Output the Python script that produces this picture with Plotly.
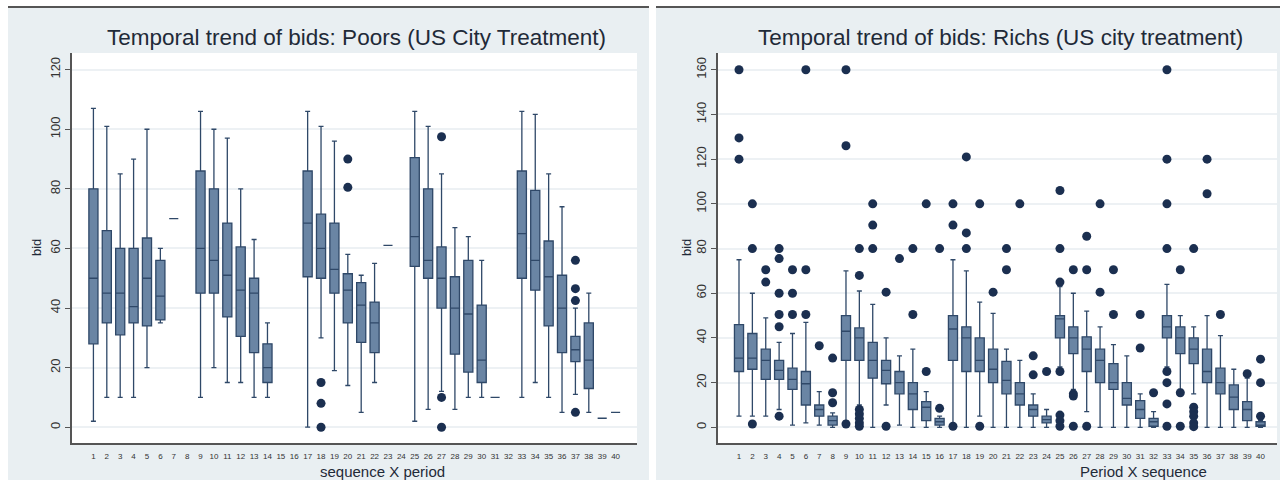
import plotly.graph_objects as go

# ---------------- Data: Poors (left panel) ----------------
poor_cat = [1, 2, 3, 4, 5, 6, 7, 9, 10, 11, 12, 13, 14, 17, 18, 19, 20, 21, 22, 23,
            25, 26, 27, 28, 29, 30, 31, 33, 34, 35, 36, 37, 38, 39, 40]
poor_lo  = [2, 10, 10, 10, 20, 35, 70, 10, 20, 15, 15, 10, 10, 0, 30, 19, 14, 5, 15, 61,
            2, 6, 12, 6, 10, 10, 10, 10, 15, 10, 5, 11, 5, 3, 5]
poor_q1  = [28, 35, 31, 35, 34, 36, 70, 45, 45, 37, 30.5, 25, 15, 50.5, 50, 45, 35, 28.5, 25, 61,
            54, 50, 40, 24.5, 18.5, 15, 10, 50, 46, 34, 25, 22, 13, 3, 5]
poor_med = [50, 45, 45, 40.5, 50, 44, 70, 60, 56, 51, 46, 45, 20, 68.5, 60, 53, 46, 41, 35, 61,
            64, 56, 50, 40, 38, 22.5, 10, 65, 56, 50.5, 40, 26, 22.5, 3, 5]
poor_q3  = [80, 66, 60, 60, 63.5, 56, 70, 86, 80, 68.5, 60.5, 50, 28, 86, 71.5, 68.5, 51.5, 48.5, 42, 61,
            90.5, 80, 60.5, 50.5, 56, 41, 10, 86, 79.5, 62.5, 51, 30.5, 35, 3, 5]
poor_hi  = [107, 101, 85, 90, 100, 60, 70, 106, 100, 97, 80, 63, 35, 106, 101, 96, 58, 51, 55, 61,
            106, 101, 85, 67, 64, 56, 10, 106, 105, 85, 74, 40, 45, 3, 5]
poor_out_x = [18, 18, 18, 20, 20, 27, 27, 27, 37, 37, 37, 37]
poor_out_y = [15, 8, 0, 90, 80.5, 97.5, 10, 0, 56, 46.5, 42.5, 5]

# ---------------- Data: Richs (right panel) ----------------
rich_cat = list(range(1, 41))
rich_lo  = [5, 5, 5, 8, 1, 2, 1, 0, 3, 10, 0, 10, 1, 0, 0, 0, 1, 0, 5, 0,
            0, 0, 0, 0, 27, 17, 7, 0, 0, 0, 0, 0, 27, 17, 15, 0, 0, 0, 0, 0]
rich_q1  = [25, 26, 21.5, 21.5, 17, 10, 5, 1, 30, 30, 22, 19.5, 15, 8, 3, 1, 30, 25, 25, 20,
            15, 10, 5, 2, 40, 33, 25, 20, 17, 10, 4, 0.5, 40, 33, 28.5, 20, 15, 8, 3, 0.5]
rich_med = [31, 31, 30, 25.5, 21.5, 19.5, 8, 3, 43, 40, 30, 25.5, 20, 15, 9, 2.5, 44, 40, 30, 26,
            21, 15, 8, 3.5, 48.5, 40, 35, 30, 20, 13, 8, 2.5, 45, 40, 35, 25, 20, 13.5, 8, 1]
rich_q3  = [46, 42, 35, 30, 26.5, 25, 10, 5, 50, 44.5, 38, 30, 25, 20, 11.5, 4, 50, 45, 40, 35,
            29.5, 20, 10, 5, 50, 45, 40.5, 35, 28.5, 20, 12, 4, 50, 45, 40, 35, 26.5, 19, 11.5, 2.5]
rich_hi  = [75, 60, 49, 38, 42, 47, 16, 6.5, 70, 61, 55, 40, 32, 35, 16, 5, 75, 70, 56, 51,
            35, 30, 15, 8, 63, 60, 52, 45, 37, 32, 15, 7, 64, 50, 45, 50, 41, 26, 22, 3]
rich_out_x = [1, 1, 1, 2, 2, 2, 3, 3, 4, 4, 4, 4, 4, 4, 5, 5, 5, 6, 6, 6, 7, 8, 8, 8,
              9, 9, 9, 10, 10, 10, 10, 10, 10, 10, 11, 11, 11, 12, 12, 13, 14, 14, 15, 15, 16, 16,
              17, 17, 17, 18, 18, 18, 19, 19, 20, 21, 21, 22, 23, 23, 24,
              25, 25, 25, 25, 25, 25, 25, 26, 26, 26, 26, 27, 27, 27, 28, 28, 29, 29, 31, 31, 32,
              33, 33, 33, 33, 33, 33, 33, 33, 34, 34, 34, 35, 35, 35, 35, 35, 35, 36, 36, 37,
              39, 40, 40, 40]
rich_out_y = [160, 129.5, 120, 100, 80, 1.5, 70.5, 65, 80, 75.5, 60, 50.5, 45, 5, 70.5, 60, 50.5,
              160, 70.5, 50.5, 36.5, 31, 15.5, 11,
              160, 126, 1.5, 80, 68, 8, 6, 4, 2, 0.5, 100, 90.5, 80, 60.5, 0.5, 75.5, 80, 50.5,
              100, 25, 80, 8.5,
              100, 90.5, 0.5, 121, 87, 80, 100, 0.5, 60.5, 80, 70.5, 100, 32, 23.5, 25,
              106, 80, 65, 25, 5.5, 3, 0.5, 70.5, 15, 14, 0.5, 85.5, 70.5, 0.5, 100, 60.5, 70.5, 50.5,
              50.5, 35.5, 15.5,
              160, 120, 100, 80, 25, 20, 10.5, 0.5, 70.5, 15.5, 0.5, 80, 9, 7, 5, 2, 0.3,
              120, 104.5, 50.5, 24, 30.5, 20, 5]

# ---------------- Styling ----------------
W, H = 1280, 480
BG_OUT = "#e9eff2"
BOX_FILL = "#6a85a4"
BOX_LINE = "#2f4868"
DOT = "#1b2f50"
TXT = "#1f2a38"
FONT = "Liberation Sans, Arial, sans-serif"


def px(x):
    return x / W


def py(y):
    return 1 - y / H


fig = go.Figure()


def add_panel(cat, lo, q1, med, q3, hi, ox, oy, xa, ya):
    fig.add_trace(go.Box(
        x=cat, q1=q1, median=med, q3=q3, lowerfence=lo, upperfence=hi,
        boxpoints=False, width=0.68, whiskerwidth=0.55,
        fillcolor=BOX_FILL, line=dict(color=BOX_LINE, width=1.3),
        xaxis=xa, yaxis=ya, showlegend=False, hoverinfo="skip"))
    fig.add_trace(go.Scatter(
        x=ox, y=oy, mode="markers",
        marker=dict(color=DOT, size=9, line=dict(width=0)),
        xaxis=xa, yaxis=ya, showlegend=False, hoverinfo="skip"))


add_panel(poor_cat, poor_lo, poor_q1, poor_med, poor_q3, poor_hi, poor_out_x, poor_out_y, "x", "y")
add_panel(rich_cat, rich_lo, rich_q1, rich_med, rich_q3, rich_hi, rich_out_x, rich_out_y, "x2", "y2")

ydom = [py(443), py(53)]
xcommon = dict(
    tickmode="array", tickvals=list(range(1, 41)), ticktext=[str(i) for i in range(1, 41)],
    tickfont=dict(size=8, color="#333", family=FONT), ticks="", showgrid=False, zeroline=False,
    showline=True, linecolor="#555", linewidth=2, ticklabelstandoff=4)
ycommon = dict(
    tickangle=-90, tickfont=dict(size=13, color="#333", family=FONT), ticks="outside",
    ticklen=5, tickcolor="#555", showgrid=True, gridcolor="#edf1f4", gridwidth=1.5,
    zeroline=False, showline=True, linecolor="#555", linewidth=2)

fig.update_layout(
    width=W, height=H,
    margin=dict(l=0, r=0, t=0, b=0),
    paper_bgcolor="white", plot_bgcolor="white",
    font=dict(family=FONT, color=TXT),
    xaxis=dict(domain=[px(72), px(637)], range=[-0.6, 41.6], anchor="y", **xcommon),
    yaxis=dict(domain=ydom, range=[-5.3, 125.6], anchor="x",
               tickvals=[0, 20, 40, 60, 80, 100, 120], **ycommon),
    xaxis2=dict(domain=[px(718), px(1277)], range=[-0.57, 41.23], anchor="y2", **xcommon),
    yaxis2=dict(domain=ydom, range=[-7.0, 167.5], anchor="x2",
                tickvals=[0, 20, 40, 60, 80, 100, 120, 140, 160], **ycommon),
)

# Panel backgrounds and top border lines
shapes = [
    dict(type="rect", xref="paper", yref="paper", x0=px(8), x1=px(649), y0=0, y1=py(7),
         fillcolor=BG_OUT, line=dict(width=0), layer="below"),
    dict(type="rect", xref="paper", yref="paper", x0=px(656), x1=1, y0=0, y1=py(7),
         fillcolor=BG_OUT, line=dict(width=0), layer="below"),
    dict(type="rect", xref="paper", yref="paper", x0=px(72), x1=px(637), y0=py(443), y1=py(53),
         fillcolor="white", line=dict(width=0), layer="below"),
    dict(type="rect", xref="paper", yref="paper", x0=px(718), x1=px(1277), y0=py(443), y1=py(53),
         fillcolor="white", line=dict(width=0), layer="below"),
    dict(type="line", xref="paper", yref="paper", x0=px(8), x1=px(649), y0=py(7), y1=py(7),
         line=dict(color="#555", width=2)),
    dict(type="line", xref="paper", yref="paper", x0=px(656), x1=1, y0=py(7), y1=py(7),
         line=dict(color="#555", width=2)),
]
fig.update_layout(shapes=shapes)


def ann(text, x, y, size, angle=0):
    return dict(text=text, x=px(x), y=py(y), xref="paper", yref="paper", showarrow=False,
                xanchor="center", yanchor="middle", textangle=angle,
                font=dict(size=size, color=TXT, family=FONT))


annotations = [
    ann("Temporal trend of bids: Poors (US City Treatment)", 356, 38, 22.5),
    ann("Temporal trend of bids: Richs (US city treatment)", 1000, 38, 22.5),
    ann("bid", 36, 248, 13, -90),
    ann("bid", 686, 248, 13, -90),
    ann("sequence X period", 382, 471, 15),
    ann("Period X sequence", 1143, 471, 15),
]
fig.update_layout(annotations=annotations)

fig.write_html("out.html")
